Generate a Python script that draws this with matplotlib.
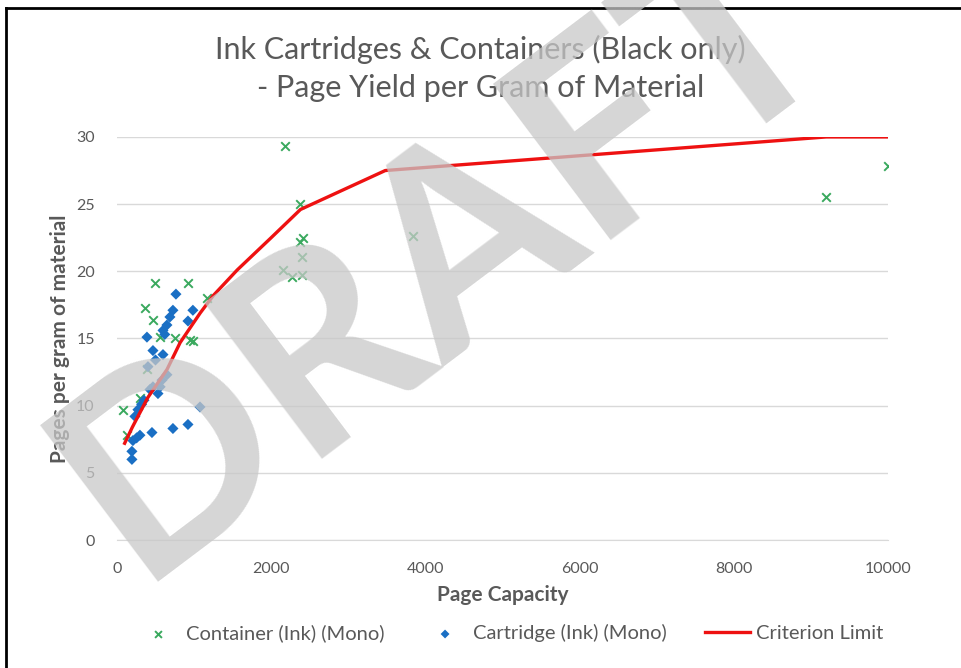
import matplotlib
matplotlib.use("Agg")
import matplotlib.pyplot as plt
from matplotlib.lines import Line2D

plt.rcParams["font.family"] = ["Lato", "DejaVu Sans"]

# Container (Ink) (Mono) - green crosses
container_x = [78, 130, 298, 363, 389, 467, 493, 558, 752, 921, 947, 985, 1167,
               2153, 2179, 2270, 2373, 2373, 2399, 2399, 2412, 3840, 9196, 10000]
container_y = [9.7, 7.8, 10.6, 17.3, 12.7, 16.4, 19.1, 15.1, 15.0, 19.1, 14.9, 14.8, 18.0,
               20.1, 29.3, 19.6, 25.0, 22.2, 21.1, 19.7, 22.5, 22.6, 25.5, 27.8]

# Cartridge (Ink) (Mono) - blue diamonds
cartridge_x = [194, 194, 207, 233, 272, 298, 320, 389, 402, 428, 454, 467, 467, 532,
               584, 597, 597, 648, 648, 687, 726, 726, 765, 921, 921, 985, 1077,
               350, 500, 560, 620, 255]
cartridge_y = [6.0, 6.6, 7.4, 9.2, 9.7, 7.8, 10.1, 15.1, 12.9, 11.2, 8.0, 11.4, 14.1, 10.9,
               11.9, 13.8, 15.6, 16.0, 12.3, 16.6, 17.1, 8.3, 18.3, 16.3, 8.6, 17.1, 9.9,
               10.4, 13.4, 11.4, 15.3, 7.6]

# Criterion Limit - red line
limit_x = [100, 200, 400, 650, 820, 1080, 1250, 1560, 2000, 2380, 3480, 9200, 10000]
limit_y = [7.2, 8.4, 10.6, 12.7, 14.7, 16.9, 18.2, 20.1, 22.5, 24.6, 27.5, 30.0, 30.0]

grey = "#595959"

fig = plt.figure(figsize=(9.61, 6.68), dpi=100)
ax = fig.add_axes([0.1217, 0.1916, 0.8023, 0.6034])

ax.scatter(container_x, container_y, marker="x", s=38, linewidths=1.4,
           color="#3aa95e", label="Container (Ink) (Mono)", zorder=3)
ax.scatter(cartridge_x, cartridge_y, marker="D", s=32, color="#1a6fc4",
           edgecolors="none", label="Cartridge (Ink) (Mono)", zorder=4)
ax.plot(limit_x, limit_y, color="#ee1111", linewidth=2.4,
        label="Criterion Limit", zorder=5)

ax.set_xlim(0, 10000)
ax.set_ylim(0, 30)
ax.set_xticks(range(0, 10001, 2000))
ax.set_yticks(range(0, 31, 5))
ax.grid(axis="y", color="#d9d9d9", linewidth=1)
ax.set_axisbelow(True)
for side in ["top", "right", "left"]:
    ax.spines[side].set_visible(False)
ax.spines["bottom"].set_color("#d9d9d9")
ax.tick_params(length=0, colors=grey, labelsize=11.5)
ax.tick_params(axis="x", pad=16)
ax.tick_params(axis="y", pad=16)

ax.set_xlabel("Page Capacity", fontsize=15, fontweight="bold", color=grey, labelpad=6)
ax.set_ylabel("Pages per gram of material", fontsize=15, fontweight="bold",
              color=grey, labelpad=4)

fig.text(0.5, 0.898, "Ink Cartridges & Containers (Black only)\n- Page Yield per Gram of Material",
         ha="center", va="center", fontsize=22, color=grey, linespacing=1.45)

fig.legend(loc="center", bbox_to_anchor=(0.53, 0.052), ncol=3, frameon=False,
           fontsize=14.5, labelcolor=grey, handlelength=2.2, columnspacing=1.9,
           handletextpad=0.3, markerscale=0.8)

# watermark
fig.text(0.46, 0.62, "DRAFT", fontsize=195, fontweight="bold", color="#c8c8c8",
         alpha=0.75, rotation=37, ha="center", va="center", zorder=10)

# frame lines on left and top
fig.add_artist(Line2D([0.006, 0.006], [0, 0.988], transform=fig.transFigure,
                      color="black", linewidth=2))
fig.add_artist(Line2D([0.006, 1], [0.988, 0.988], transform=fig.transFigure,
                      color="black", linewidth=2))

fig.savefig("out.png", dpi=100)
